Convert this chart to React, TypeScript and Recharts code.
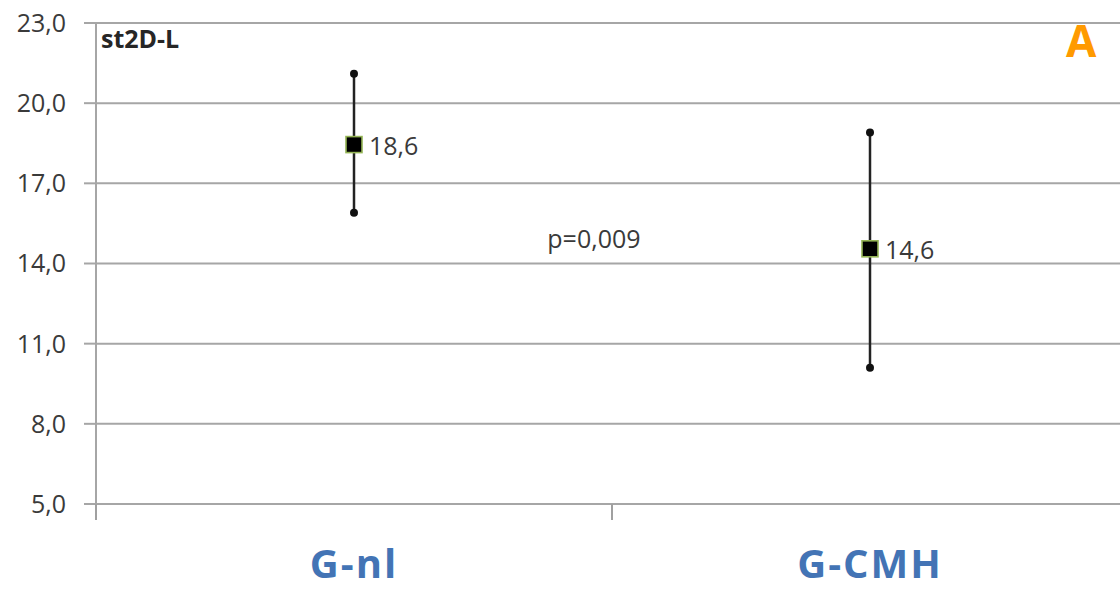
import { ComposedChart, Scatter, ErrorBar, XAxis, YAxis, CartesianGrid, ReferenceDot, LabelList } from 'recharts';

const categories = ['G-nl', 'G-CMH'];
const means = [18.45, 14.55];
const meanLabels = ['18,6', '14,6'];
const lows = [15.9, 10.1];
const highs = [21.1, 18.9];
const yTicks = [5, 8, 11, 14, 17, 20, 23];
const pValue = 'p=0,009';

const FONT = '"Open Sans", "DejaVu Sans", sans-serif';

const rows = categories.map((c, i) => ({
  name: c,
  x: i + 0.5,
  mean: means[i],
  lo: lows[i],
  hi: highs[i],
  label: meanLabels[i],
  err: [means[i] - lows[i], highs[i] - means[i]],
}));

const SquareMark = (props: any) => {
  const { cx, cy } = props;
  if (cx == null || cy == null) return null;
  return <rect x={cx - 8} y={cy - 8} width={16} height={16} fill="#000" stroke="#94b455" strokeWidth={1.6} />;
};

const EndDot = (props: any) => {
  const { cx, cy } = props;
  if (cx == null || cy == null) return null;
  return <circle cx={cx} cy={cy} r={4} fill="#111" />;
};

const XTick = (props: any) => {
  const { x, y, payload } = props;
  const v = payload.value;
  if (Number.isInteger(v)) {
    return <line x1={x} x2={x} y1={y} y2={y + 16} stroke="#a0a0a0" strokeWidth={2} />;
  }
  return (
    <text x={x} y={y + 74} textAnchor="middle" fontFamily={FONT} fontWeight={700} fontSize={40} letterSpacing={2} fill="#4374b5">
      {categories[Math.floor(v)]}
    </text>
  );
};

const fmtTick = (v: number) => v.toFixed(1).replace('.', ',');

export default function App() {
  return (
    <div style={{ position: 'fixed', left: 0, top: 0, width: 1120, height: 590, overflow: 'hidden', background: '#fff' }}>
      <ComposedChart width={1128} height={590} data={rows} margin={{ top: 23, right: 0, bottom: 0, left: 0 }}>
        <CartesianGrid vertical={false} stroke="#a6a6a6" strokeWidth={2} />
        <XAxis
          type="number"
          dataKey="x"
          domain={[0, 2]}
          ticks={[0, 0.5, 1, 1.5, 2]}
          interval={0}
          axisLine={false}
          tickLine={false}
          tickSize={0}
          tickMargin={0}
          height={86}
          tick={<XTick />}
        />
        <YAxis
          type="number"
          domain={[5, 23]}
          ticks={yTicks}
          interval={0}
          width={96}
          axisLine={{ stroke: '#a6a6a6', strokeWidth: 2 }}
          tickLine={{ stroke: '#a6a6a6', strokeWidth: 2 }}
          tickSize={12}
          tickMargin={18}
          tickFormatter={fmtTick}
          tick={{ fontFamily: FONT, fontSize: 25, fill: '#3a3a3a' }}
        />
        <Scatter dataKey="mean" isAnimationActive={false} shape={() => null}>
          <ErrorBar dataKey="err" direction="y" width={0} stroke="#222" strokeWidth={2.5} isAnimationActive={false} />
        </Scatter>
        <Scatter dataKey="lo" isAnimationActive={false} shape={<EndDot />} />
        <Scatter dataKey="hi" isAnimationActive={false} shape={<EndDot />} />
        <Scatter dataKey="mean" isAnimationActive={false} shape={<SquareMark />}>
          <LabelList
            dataKey="label"
            content={(p: any) => (
              <text x={p.x + p.width / 2 + 15} y={p.y + p.height / 2} dominantBaseline="central" fontFamily={FONT} fontSize={25} fill="#3a3a3a">
                {p.value}
              </text>
            )}
          />
        </Scatter>
        <ReferenceDot
          x={0.965}
          y={14.9}
          r={0}
          fill="none"
          stroke="none"
          label={{ value: pValue, position: 'center', fontFamily: FONT, fontSize: 25, fill: '#3a3a3a' }}
        />
      </ComposedChart>
      <div style={{ position: 'absolute', left: 101, top: 21, fontFamily: FONT, fontWeight: 700, fontSize: 25, color: '#262626' }}>
        st2D-L
      </div>
      <div style={{ position: 'absolute', left: 1066, top: 10, fontFamily: FONT, fontWeight: 700, fontSize: 44, color: '#ff9a00' }}>
        A
      </div>
    </div>
  );
}
